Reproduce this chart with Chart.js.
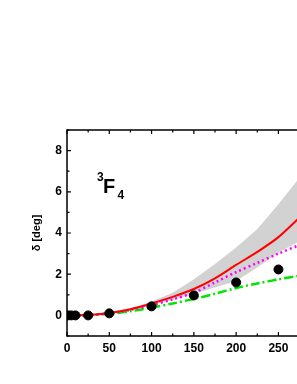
<!DOCTYPE html>
<html>
<head>
<meta charset="utf-8">
<script src="https://cdn.jsdelivr.net/npm/chart.js@4.4.1/dist/chart.umd.min.js"></script>
<style>
  html, body { margin: 0; padding: 0; background: #fff; overflow: hidden; }
  #wrap { width: 380px; height: 384px; }
</style>
</head>
<body>
<div id="wrap"><canvas id="grafico" width="380" height="384"></canvas></div>
<script>
// 3F4 phase shift vs T_lab
const tlab = [0, 25, 50, 75, 100, 125, 150, 175, 200, 225, 250, 275, 300, 325, 350];
const redCurve     = [0, 0.02, 0.12, 0.3, 0.58, 0.9, 1.28, 1.8, 2.45, 3.08, 3.8, 4.75, 5.7, 6.7, 7.8];
const magentaCurve = [0, 0.02, 0.1, 0.27, 0.5, 0.78, 1.1, 1.6, 2.1, 2.55, 3.0, 3.42, 3.85, 4.3, 4.75];
const greenCurve   = [0, 0.02, 0.08, 0.2, 0.38, 0.58, 0.8, 1.05, 1.33, 1.55, 1.75, 1.93, 2.1, 2.27, 2.45];
const bandLow      = [0, 0.02, 0.1, 0.28, 0.5, 0.75, 1.05, 1.35, 1.67, 2.33, 3.05, 3.6, 4.2, 4.8, 5.4];
const bandHigh     = [0, 0.03, 0.15, 0.35, 0.68, 1.1, 1.75, 2.5, 3.3, 4.2, 5.4, 6.7, 7.9, 9.2, 10.5];

const expT     = [1, 5, 10, 25, 50, 100, 150, 200, 250];
const expDelta = [0, 0, 0, 0, 0.1, 0.44, 0.97, 1.6, 2.23];

const xTicks = [0, 50, 100, 150, 200, 250, 300, 350];
const yTicks = [0, 2, 4, 6, 8];

const pts = (xs, ys) => xs.map((x, i) => ({x: x, y: ys[i]}));
const FONT = "'Liberation Sans', Arial, sans-serif";

// frame, inward ticks and the 3F4 label
const marcos = {
  id: 'marcos',
  afterDraw(chart) {
    const ctx = chart.ctx;
    const a = chart.chartArea;
    const sx = chart.scales.x, sy = chart.scales.y;
    ctx.save();
    ctx.strokeStyle = '#000';
    ctx.lineWidth = 1.5;
    ctx.strokeRect(a.left, a.top, a.right - a.left, a.bottom - a.top);
    ctx.lineWidth = 1.2;
    sx.ticks.forEach(t => {
      const px = sx.getPixelForValue(t.value);
      const len = xTicks.includes(t.value) ? 4 : 2.5;
      ctx.beginPath();
      ctx.moveTo(px, a.bottom); ctx.lineTo(px, a.bottom - len);
      ctx.moveTo(px, a.top); ctx.lineTo(px, a.top + len);
      ctx.stroke();
    });
    sy.ticks.forEach(t => {
      const py = sy.getPixelForValue(t.value);
      const len = yTicks.includes(t.value) ? 4 : 2.5;
      ctx.beginPath();
      ctx.moveTo(a.left, py); ctx.lineTo(a.left + len, py);
      ctx.moveTo(a.right, py); ctx.lineTo(a.right - len, py);
      ctx.stroke();
    });
    // label
    const lx = sx.getPixelForValue(36), ly = sy.getPixelForValue(6.2);
    ctx.fillStyle = '#000';
    ctx.textBaseline = 'alphabetic';
    ctx.font = 'bold 12px ' + FONT;
    ctx.fillText('3', lx - 0.5, ly - 7);
    ctx.font = 'bold 20px ' + FONT;
    ctx.fillText('F', lx + 5.5, ly + 5);
    ctx.font = 'bold 12px ' + FONT;
    ctx.fillText('4', lx + 20, ly + 11);
    ctx.restore();
  }
};

const data = {
  datasets: [
    {
      label: 'exp',
      data: pts(expT, expDelta),
      showLine: false,
      pointRadius: 4.5,
      pointBackgroundColor: '#000',
      pointBorderColor: '#000',
      order: 0
    },
    {
      label: 'red',
      data: pts(tlab, redCurve),
      showLine: true,
      borderColor: 'rgb(255, 0, 0)',
      borderWidth: 2,
      pointRadius: 0,
      tension: 0.3,
      order: 1
    },
    {
      label: 'magenta',
      data: pts(tlab, magentaCurve),
      showLine: true,
      borderColor: 'rgb(255, 0, 255)',
      borderWidth: 2.5,
      borderDash: [2, 3],
      pointRadius: 0,
      tension: 0.3,
      order: 2
    },
    {
      label: 'green',
      data: pts(tlab, greenCurve),
      showLine: true,
      borderColor: 'rgb(0, 230, 0)',
      borderWidth: 2.5,
      borderDash: [9, 3, 2, 3],
      pointRadius: 0,
      tension: 0.3,
      order: 3
    },
    {
      label: 'bandLow',
      data: pts(tlab, bandLow),
      showLine: true,
      borderWidth: 0,
      borderColor: 'rgba(0,0,0,0)',
      pointRadius: 0,
      fill: false,
      order: 5
    },
    {
      label: 'bandHigh',
      data: pts(tlab, bandHigh),
      showLine: true,
      borderWidth: 0,
      borderColor: 'rgba(0,0,0,0)',
      backgroundColor: 'rgb(210, 210, 210)',
      pointRadius: 0,
      fill: '-1',
      order: 4
    }
  ]
};

const config = {
  type: 'scatter',
  data: data,
  options: {
    responsive: false,
    animation: false,
    layout: { padding: { top: 130, right: 17, left: 0, bottom: 0 } },
    plugins: { legend: { display: false }, tooltip: { enabled: false } },
    scales: {
      x: {
        min: 0, max: 350,
        grid: { display: false, drawTicks: false },
        border: { display: false },
        afterFit: (s) => { s.height = 48; },
        ticks: {
          stepSize: 25,
          padding: 5,
          color: '#000',
          font: { family: FONT, size: 12, weight: 'bold' },
          autoSkip: false,
          maxRotation: 0,
          callback: (v) => xTicks.includes(v) ? String(v) : ''
        }
      },
      y: {
        min: -1, max: 9,
        grid: { display: false, drawTicks: false },
        border: { display: false },
        afterFit: (s) => { s.width = 67; },
        title: {
          display: true,
          text: 'δ [deg]',
          color: '#000',
          font: { family: FONT, size: 11, weight: 'bold' },
          padding: { top: 30, bottom: 0 }
        },
        ticks: {
          stepSize: 1,
          padding: 5,
          color: '#000',
          font: { family: FONT, size: 12, weight: 'bold' },
          autoSkip: false,
          callback: (v) => yTicks.includes(v) ? String(v) : ''
        }
      }
    }
  },
  plugins: [marcos]
};

const myChart = new Chart(document.getElementById('grafico'), config);
</script>
</body>
</html>
